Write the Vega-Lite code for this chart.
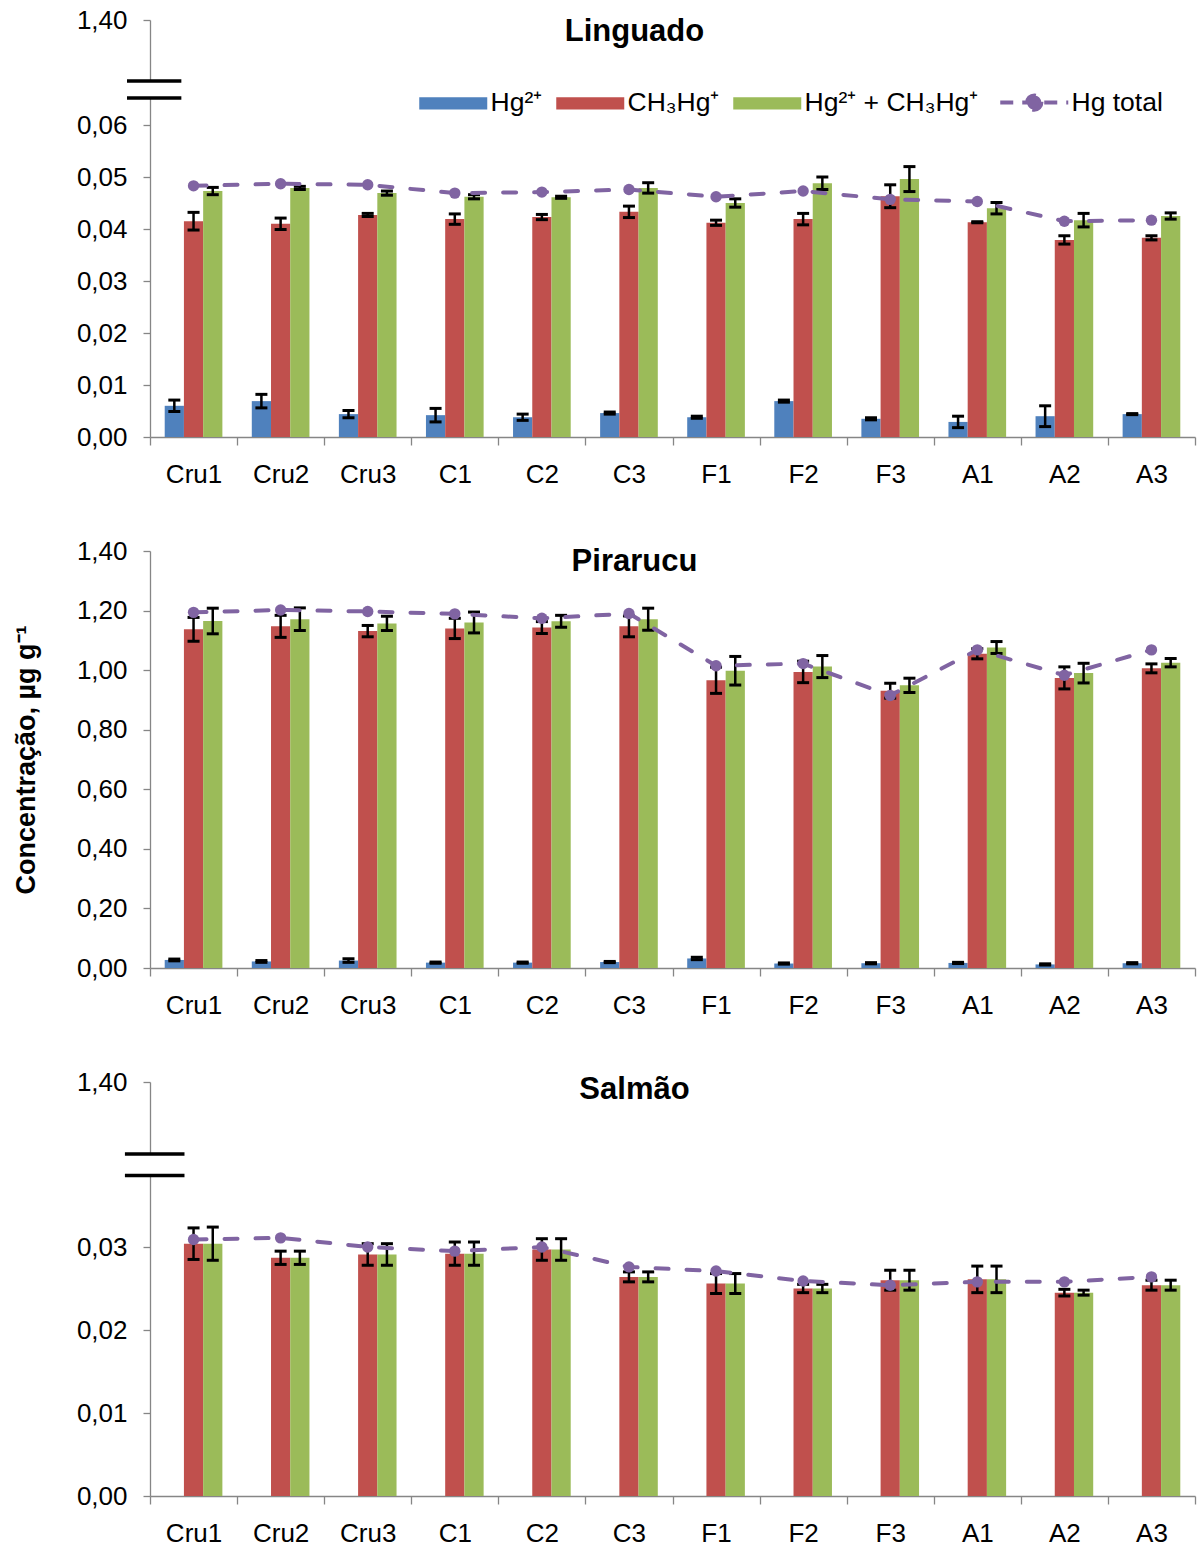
{
  "$schema": "https://vega.github.io/schema/vega-lite/v6.json",
  "background": "white",
  "padding": {"left": 12, "top": 7, "right": 4, "bottom": 4},
  "spacing": 114,
  "bounds": "flush",
  "config": {
    "font": "Liberation Sans",
    "view": {"stroke": null},
    "axis": {"grid": false, "labelFont": "Liberation Sans", "labelFontSize": 26, "labelColor": "#000000", "domainColor": "#868686", "tickColor": "#868686", "domainWidth": 1.3, "tickWidth": 1.3, "titleFont": "Liberation Sans", "titleColor": "#000000"},
    "title": {"font": "Liberation Sans", "fontSize": 31, "fontWeight": "bold", "color": "#000000", "anchor": "middle", "frame": "group", "baseline": "alphabetic"}
  },
  "datasets": {
    "linguado": [
      {"c": "Cru1", "s": "Hg²⁺", "v": 0.0060, "e": 0.0011},
      {"c": "Cru1", "s": "CH₃Hg⁺", "v": 0.0415, "e": 0.0017},
      {"c": "Cru1", "s": "Hg²⁺ + CH₃Hg⁺", "v": 0.0473, "e": 0.0007},
      {"c": "Cru1", "s": "Hg total", "v": 0.0483, "e": 0},
      {"c": "Cru2", "s": "Hg²⁺", "v": 0.0069, "e": 0.0013},
      {"c": "Cru2", "s": "CH₃Hg⁺", "v": 0.0410, "e": 0.0011},
      {"c": "Cru2", "s": "Hg²⁺ + CH₃Hg⁺", "v": 0.0479, "e": 0.0003},
      {"c": "Cru2", "s": "Hg total", "v": 0.0487, "e": 0},
      {"c": "Cru3", "s": "Hg²⁺", "v": 0.0044, "e": 0.0007},
      {"c": "Cru3", "s": "CH₃Hg⁺", "v": 0.0427, "e": 0.0003},
      {"c": "Cru3", "s": "Hg²⁺ + CH₃Hg⁺", "v": 0.0469, "e": 0.0004},
      {"c": "Cru3", "s": "Hg total", "v": 0.0485, "e": 0},
      {"c": "C1", "s": "Hg²⁺", "v": 0.0042, "e": 0.0013},
      {"c": "C1", "s": "CH₃Hg⁺", "v": 0.0419, "e": 0.0010},
      {"c": "C1", "s": "Hg²⁺ + CH₃Hg⁺", "v": 0.0462, "e": 0.0004},
      {"c": "C1", "s": "Hg total", "v": 0.0469, "e": 0},
      {"c": "C2", "s": "Hg²⁺", "v": 0.0038, "e": 0.0006},
      {"c": "C2", "s": "CH₃Hg⁺", "v": 0.0423, "e": 0.0005},
      {"c": "C2", "s": "Hg²⁺ + CH₃Hg⁺", "v": 0.0461, "e": 0.0002},
      {"c": "C2", "s": "Hg total", "v": 0.0471, "e": 0},
      {"c": "C3", "s": "Hg²⁺", "v": 0.0046, "e": 0.0002},
      {"c": "C3", "s": "CH₃Hg⁺", "v": 0.0433, "e": 0.0011},
      {"c": "C3", "s": "Hg²⁺ + CH₃Hg⁺", "v": 0.0479, "e": 0.0010},
      {"c": "C3", "s": "Hg total", "v": 0.0476, "e": 0},
      {"c": "F1", "s": "Hg²⁺", "v": 0.0038, "e": 0.0002},
      {"c": "F1", "s": "CH₃Hg⁺", "v": 0.0412, "e": 0.0005},
      {"c": "F1", "s": "Hg²⁺ + CH₃Hg⁺", "v": 0.0450, "e": 0.0008},
      {"c": "F1", "s": "Hg total", "v": 0.0462, "e": 0},
      {"c": "F2", "s": "Hg²⁺", "v": 0.0069, "e": 0.0002},
      {"c": "F2", "s": "CH₃Hg⁺", "v": 0.0419, "e": 0.0011},
      {"c": "F2", "s": "Hg²⁺ + CH₃Hg⁺", "v": 0.0488, "e": 0.0012},
      {"c": "F2", "s": "Hg total", "v": 0.0473, "e": 0},
      {"c": "F3", "s": "Hg²⁺", "v": 0.0035, "e": 0.0002},
      {"c": "F3", "s": "CH₃Hg⁺", "v": 0.0463, "e": 0.0022},
      {"c": "F3", "s": "Hg²⁺ + CH₃Hg⁺", "v": 0.0496, "e": 0.0024},
      {"c": "F3", "s": "Hg total", "v": 0.0457, "e": 0},
      {"c": "A1", "s": "Hg²⁺", "v": 0.0029, "e": 0.0011},
      {"c": "A1", "s": "CH₃Hg⁺", "v": 0.0413, "e": 0.0001},
      {"c": "A1", "s": "Hg²⁺ + CH₃Hg⁺", "v": 0.0440, "e": 0.0011},
      {"c": "A1", "s": "Hg total", "v": 0.0453, "e": 0},
      {"c": "A2", "s": "Hg²⁺", "v": 0.0040, "e": 0.0020},
      {"c": "A2", "s": "CH₃Hg⁺", "v": 0.0379, "e": 0.0008},
      {"c": "A2", "s": "Hg²⁺ + CH₃Hg⁺", "v": 0.0417, "e": 0.0013},
      {"c": "A2", "s": "Hg total", "v": 0.0415, "e": 0},
      {"c": "A3", "s": "Hg²⁺", "v": 0.0044, "e": 0.0001},
      {"c": "A3", "s": "CH₃Hg⁺", "v": 0.0383, "e": 0.0004},
      {"c": "A3", "s": "Hg²⁺ + CH₃Hg⁺", "v": 0.0425, "e": 0.0006},
      {"c": "A3", "s": "Hg total", "v": 0.0417, "e": 0}
    ],
    "pirarucu": [
      {"c": "Cru1", "s": "Hg²⁺", "v": 0.027, "e": 0.003},
      {"c": "Cru1", "s": "CH₃Hg⁺", "v": 1.137, "e": 0.040},
      {"c": "Cru1", "s": "Hg²⁺ + CH₃Hg⁺", "v": 1.165, "e": 0.043},
      {"c": "Cru1", "s": "Hg total", "v": 1.194, "e": 0},
      {"c": "Cru2", "s": "Hg²⁺", "v": 0.022, "e": 0.003},
      {"c": "Cru2", "s": "CH₃Hg⁺", "v": 1.147, "e": 0.037},
      {"c": "Cru2", "s": "Hg²⁺ + CH₃Hg⁺", "v": 1.171, "e": 0.038},
      {"c": "Cru2", "s": "Hg total", "v": 1.202, "e": 0},
      {"c": "Cru3", "s": "Hg²⁺", "v": 0.025, "e": 0.006},
      {"c": "Cru3", "s": "CH₃Hg⁺", "v": 1.131, "e": 0.019},
      {"c": "Cru3", "s": "Hg²⁺ + CH₃Hg⁺", "v": 1.157, "e": 0.024},
      {"c": "Cru3", "s": "Hg total", "v": 1.197, "e": 0},
      {"c": "C1", "s": "Hg²⁺", "v": 0.018, "e": 0.002},
      {"c": "C1", "s": "CH₃Hg⁺", "v": 1.140, "e": 0.034},
      {"c": "C1", "s": "Hg²⁺ + CH₃Hg⁺", "v": 1.160, "e": 0.035},
      {"c": "C1", "s": "Hg total", "v": 1.189, "e": 0},
      {"c": "C2", "s": "Hg²⁺", "v": 0.018, "e": 0.002},
      {"c": "C2", "s": "CH₃Hg⁺", "v": 1.143, "e": 0.020},
      {"c": "C2", "s": "Hg²⁺ + CH₃Hg⁺", "v": 1.164, "e": 0.020},
      {"c": "C2", "s": "Hg total", "v": 1.174, "e": 0},
      {"c": "C3", "s": "Hg²⁺", "v": 0.020, "e": 0.002},
      {"c": "C3", "s": "CH₃Hg⁺", "v": 1.147, "e": 0.035},
      {"c": "C3", "s": "Hg²⁺ + CH₃Hg⁺", "v": 1.171, "e": 0.037},
      {"c": "C3", "s": "Hg total", "v": 1.190, "e": 0},
      {"c": "F1", "s": "Hg²⁺", "v": 0.032, "e": 0.004},
      {"c": "F1", "s": "CH₃Hg⁺", "v": 0.966, "e": 0.044},
      {"c": "F1", "s": "Hg²⁺ + CH₃Hg⁺", "v": 0.998, "e": 0.048},
      {"c": "F1", "s": "Hg total", "v": 1.015, "e": 0},
      {"c": "F2", "s": "Hg²⁺", "v": 0.015, "e": 0.002},
      {"c": "F2", "s": "CH₃Hg⁺", "v": 0.994, "e": 0.036},
      {"c": "F2", "s": "Hg²⁺ + CH₃Hg⁺", "v": 1.012, "e": 0.037},
      {"c": "F2", "s": "Hg total", "v": 1.022, "e": 0},
      {"c": "F3", "s": "Hg²⁺", "v": 0.016, "e": 0.002},
      {"c": "F3", "s": "CH₃Hg⁺", "v": 0.931, "e": 0.025},
      {"c": "F3", "s": "Hg²⁺ + CH₃Hg⁺", "v": 0.949, "e": 0.024},
      {"c": "F3", "s": "Hg total", "v": 0.915, "e": 0},
      {"c": "A1", "s": "Hg²⁺", "v": 0.017, "e": 0.002},
      {"c": "A1", "s": "CH₃Hg⁺", "v": 1.055, "e": 0.017},
      {"c": "A1", "s": "Hg²⁺ + CH₃Hg⁺", "v": 1.076, "e": 0.020},
      {"c": "A1", "s": "Hg total", "v": 1.068, "e": 0},
      {"c": "A2", "s": "Hg²⁺", "v": 0.012, "e": 0.002},
      {"c": "A2", "s": "CH₃Hg⁺", "v": 0.974, "e": 0.037},
      {"c": "A2", "s": "Hg²⁺ + CH₃Hg⁺", "v": 0.990, "e": 0.033},
      {"c": "A2", "s": "Hg total", "v": 0.983, "e": 0},
      {"c": "A3", "s": "Hg²⁺", "v": 0.016, "e": 0.002},
      {"c": "A3", "s": "CH₃Hg⁺", "v": 1.006, "e": 0.015},
      {"c": "A3", "s": "Hg²⁺ + CH₃Hg⁺", "v": 1.025, "e": 0.014},
      {"c": "A3", "s": "Hg total", "v": 1.068, "e": 0}
    ],
    "salmao": [
      {"c": "Cru1", "s": "CH₃Hg⁺", "v": 0.0304, "e": 0.0019},
      {"c": "Cru1", "s": "Hg²⁺ + CH₃Hg⁺", "v": 0.0304, "e": 0.0020},
      {"c": "Cru1", "s": "Hg total", "v": 0.0309, "e": 0},
      {"c": "Cru2", "s": "CH₃Hg⁺", "v": 0.0287, "e": 0.0008},
      {"c": "Cru2", "s": "Hg²⁺ + CH₃Hg⁺", "v": 0.0287, "e": 0.0008},
      {"c": "Cru2", "s": "Hg total", "v": 0.0311, "e": 0},
      {"c": "Cru3", "s": "CH₃Hg⁺", "v": 0.0291, "e": 0.0013},
      {"c": "Cru3", "s": "Hg²⁺ + CH₃Hg⁺", "v": 0.0291, "e": 0.0013},
      {"c": "Cru3", "s": "Hg total", "v": 0.0300, "e": 0},
      {"c": "C1", "s": "CH₃Hg⁺", "v": 0.0292, "e": 0.0014},
      {"c": "C1", "s": "Hg²⁺ + CH₃Hg⁺", "v": 0.0292, "e": 0.0014},
      {"c": "C1", "s": "Hg total", "v": 0.0295, "e": 0},
      {"c": "C2", "s": "CH₃Hg⁺", "v": 0.0297, "e": 0.0013},
      {"c": "C2", "s": "Hg²⁺ + CH₃Hg⁺", "v": 0.0297, "e": 0.0013},
      {"c": "C2", "s": "Hg total", "v": 0.0300, "e": 0},
      {"c": "C3", "s": "CH₃Hg⁺", "v": 0.0264, "e": 0.0006},
      {"c": "C3", "s": "Hg²⁺ + CH₃Hg⁺", "v": 0.0264, "e": 0.0006},
      {"c": "C3", "s": "Hg total", "v": 0.0276, "e": 0},
      {"c": "F1", "s": "CH₃Hg⁺", "v": 0.0256, "e": 0.0012},
      {"c": "F1", "s": "Hg²⁺ + CH₃Hg⁺", "v": 0.0256, "e": 0.0012},
      {"c": "F1", "s": "Hg total", "v": 0.0271, "e": 0},
      {"c": "F2", "s": "CH₃Hg⁺", "v": 0.0250, "e": 0.0005},
      {"c": "F2", "s": "Hg²⁺ + CH₃Hg⁺", "v": 0.0250, "e": 0.0005},
      {"c": "F2", "s": "Hg total", "v": 0.0259, "e": 0},
      {"c": "F3", "s": "CH₃Hg⁺", "v": 0.0260, "e": 0.0012},
      {"c": "F3", "s": "Hg²⁺ + CH₃Hg⁺", "v": 0.0260, "e": 0.0012},
      {"c": "F3", "s": "Hg total", "v": 0.0254, "e": 0},
      {"c": "A1", "s": "CH₃Hg⁺", "v": 0.0261, "e": 0.0016},
      {"c": "A1", "s": "Hg²⁺ + CH₃Hg⁺", "v": 0.0261, "e": 0.0016},
      {"c": "A1", "s": "Hg total", "v": 0.0258, "e": 0},
      {"c": "A2", "s": "CH₃Hg⁺", "v": 0.0245, "e": 0.0004},
      {"c": "A2", "s": "Hg²⁺ + CH₃Hg⁺", "v": 0.0245, "e": 0.0003},
      {"c": "A2", "s": "Hg total", "v": 0.0258, "e": 0},
      {"c": "A3", "s": "CH₃Hg⁺", "v": 0.0254, "e": 0.0006},
      {"c": "A3", "s": "Hg²⁺ + CH₃Hg⁺", "v": 0.0254, "e": 0.0006},
      {"c": "A3", "s": "Hg total", "v": 0.0264, "e": 0}
    ],
    "break1": [
      {"k": "gap", "x1": -0.006, "x2": 0.006, "y": 0.0819, "y2": 0.369},
      {"k": "line", "x1": -0.022, "x2": 0.030, "y": 0.0819, "y2": 0.0819},
      {"k": "line", "x1": -0.022, "x2": 0.030, "y": 0.369, "y2": 0.369}
    ],
    "break3": [
      {"k": "gap", "x1": -0.006, "x2": 0.006, "y": 0.0386, "y2": 0.206},
      {"k": "line", "x1": -0.024, "x2": 0.033, "y": 0.0386, "y2": 0.0386},
      {"k": "line", "x1": -0.024, "x2": 0.033, "y": 0.206, "y2": 0.206}
    ]
  },
  "vconcat": [
    {
      "width": 1045, "height": 417,
      "title": {"text": "Linguado", "offset": -41, "dx": -38},
      "resolve": {"scale": {"x": "independent"}},
      "layer": [
        {
          "data": {"name": "linguado"},
          "transform": [{"calculate": "datum.v - datum.e", "as": "lo"}, {"calculate": "datum.v + datum.e", "as": "hi"}],
          "encoding": {
            "x": {"field": "c", "type": "nominal", "sort": ["Cru1","Cru2","Cru3","C1","C2","C3","F1","F2","F3","A1","A2","A3"], "scale": {"paddingInner": 0, "paddingOuter": 0},
                  "axis": {"title": null, "tickBand": "extent", "tickSize": 8, "labelPadding": 16, "labelAngle": 0}}
          },
          "layer": [
            {"transform": [{"filter": "datum.s !== 'Hg total'"}], "mark": {"type": "bar"},
             "encoding": {
               "xOffset": {"field": "s", "type": "nominal", "sort": ["Hg²⁺","CH₃Hg⁺","Hg²⁺ + CH₃Hg⁺"], "scale": {"domain": ["Hg²⁺","CH₃Hg⁺","Hg²⁺ + CH₃Hg⁺"], "paddingInner": 0, "paddingOuter": 0.765}},
               "y": {"field": "v", "type": "quantitative", "scale": {"domain": [0, 0.065, 1.4], "range": [417, 79, 0], "nice": false, "zero": false},
                     "axis": {"title": null, "values": [0, 0.01, 0.02, 0.03, 0.04, 0.05, 0.06, 1.4], "labelExpr": "replace(format(datum.value, '.2f'), '.', ',')", "tickSize": 7, "labelPadding": 16}},
               "color": {"field": "s", "type": "nominal",
                 "scale": {"domain": ["Hg²⁺","CH₃Hg⁺","Hg²⁺ + CH₃Hg⁺","Hg total"], "range": ["#4F81BD","#C0504D","#9BBB59","#8064A2"]},
                 "legend": {"orient": "none", "legendX": 290, "legendY": 69, "direction": "horizontal", "title": null, "padding": 0,
                   "labelFont": "Liberation Sans", "labelFontSize": 26.5, "labelColor": "#000000", "labelOffset": 24, "labelLimit": 0, "columnPadding": 13,
                   "symbolSize": 4624, "symbolType": "M-1,-0.18H1V0.18H-1Z", "symbolStrokeWidth": 0,
                   "encode": {"symbols": {"update": {
                     "shape": {"signal": "datum.value === 'Hg total' ? 'M-1,0H1M0.21,0A0.21,0.21,0,1,1,-0.21,0A0.21,0.21,0,1,1,0.21,0Z' : 'M-1,-0.18H1V0.18H-1Z'"},
                     "fill": {"scale": "color", "field": "value"},
                     "stroke": {"value": "#8064A2"},
                     "strokeWidth": {"signal": "datum.value === 'Hg total' ? 4 : 0"},
                     "strokeDash": {"signal": "datum.value === 'Hg total' ? [13, 9] : [1, 0]"},
                     "opacity": {"value": 1}
                   }}}}
               }
             }},
            {"transform": [{"filter": "datum.s !== 'Hg total'"}], "mark": {"type": "rule", "color": "#000000", "strokeWidth": 2.5},
             "encoding": {
               "xOffset": {"field": "s", "type": "nominal", "sort": ["Hg²⁺","CH₃Hg⁺","Hg²⁺ + CH₃Hg⁺"]},
               "y": {"field": "lo", "type": "quantitative", "title": null}, "y2": {"field": "hi"}}},
            {"transform": [{"filter": "datum.s !== 'Hg total'"}], "mark": {"type": "tick", "color": "#000000", "thickness": 3, "size": 12, "opacity": 1},
             "encoding": {
               "xOffset": {"field": "s", "type": "nominal", "sort": ["Hg²⁺","CH₃Hg⁺","Hg²⁺ + CH₃Hg⁺"]},
               "y": {"field": "lo", "type": "quantitative", "title": null}}},
            {"transform": [{"filter": "datum.s !== 'Hg total'"}], "mark": {"type": "tick", "color": "#000000", "thickness": 3, "size": 12, "opacity": 1},
             "encoding": {
               "xOffset": {"field": "s", "type": "nominal", "sort": ["Hg²⁺","CH₃Hg⁺","Hg²⁺ + CH₃Hg⁺"]},
               "y": {"field": "hi", "type": "quantitative", "title": null}}},
            {"transform": [{"filter": "datum.s === 'Hg total'"}], "mark": {"type": "line", "strokeWidth": 4, "strokeDash": [13, 18], "strokeCap": "round"},
             "encoding": {"y": {"field": "v", "type": "quantitative", "title": null}, "color": {"field": "s", "type": "nominal", "legend": null}}},
            {"transform": [{"filter": "datum.s === 'Hg total'"}], "mark": {"type": "point", "filled": true, "size": 130, "opacity": 1},
             "encoding": {"y": {"field": "v", "type": "quantitative", "title": null}, "color": {"field": "s", "type": "nominal", "legend": null}}}
          ]
        },
        {
          "data": {"name": "break1"},
          "encoding": {"x": {"field": "x1", "type": "quantitative", "scale": {"domain": [0, 1], "nice": false, "zero": false}, "axis": null}, "x2": {"field": "x2"}},
          "layer": [
            {"transform": [{"filter": "datum.k === 'gap'"}], "mark": {"type": "rect", "color": "#ffffff", "opacity": 1},
             "encoding": {"y": {"field": "y", "type": "quantitative", "title": null}, "y2": {"field": "y2"}}},
            {"transform": [{"filter": "datum.k === 'line'"}], "mark": {"type": "rule", "color": "#000000", "strokeWidth": 3.5},
             "encoding": {"y": {"field": "y", "type": "quantitative", "title": null}}}
          ]
        }
      ]
    },
    {
      "width": 1045, "height": 417,
      "title": {"text": "Pirarucu", "offset": -40, "dx": -38},
      "layer": [
        {
          "data": {"name": "pirarucu"},
          "transform": [{"calculate": "datum.v - datum.e", "as": "lo"}, {"calculate": "datum.v + datum.e", "as": "hi"}],
          "encoding": {
            "x": {"field": "c", "type": "nominal", "sort": ["Cru1","Cru2","Cru3","C1","C2","C3","F1","F2","F3","A1","A2","A3"], "scale": {"paddingInner": 0, "paddingOuter": 0},
                  "axis": {"title": null, "tickBand": "extent", "tickSize": 8, "labelPadding": 16, "labelAngle": 0}}
          },
          "layer": [
            {"transform": [{"filter": "datum.s !== 'Hg total'"}], "mark": {"type": "bar"},
             "encoding": {
               "xOffset": {"field": "s", "type": "nominal", "sort": ["Hg²⁺","CH₃Hg⁺","Hg²⁺ + CH₃Hg⁺"], "scale": {"domain": ["Hg²⁺","CH₃Hg⁺","Hg²⁺ + CH₃Hg⁺"], "paddingInner": 0, "paddingOuter": 0.765}},
               "y": {"field": "v", "type": "quantitative", "title": "Concentração, µg g⁻¹", "scale": {"domain": [0, 1.4], "nice": false},
                     "axis": {"titleFontSize": 27, "titleFontWeight": "bold", "titlePadding": 36, "values": [0, 0.2, 0.4, 0.6, 0.8, 1.0, 1.2, 1.4], "labelExpr": "replace(format(datum.value, '.2f'), '.', ',')", "tickSize": 7, "labelPadding": 16}},
               "color": {"field": "s", "type": "nominal", "legend": null}
             }},
            {"transform": [{"filter": "datum.s !== 'Hg total'"}], "mark": {"type": "rule", "color": "#000000", "strokeWidth": 2.5},
             "encoding": {
               "xOffset": {"field": "s", "type": "nominal", "sort": ["Hg²⁺","CH₃Hg⁺","Hg²⁺ + CH₃Hg⁺"]},
               "y": {"field": "lo", "type": "quantitative", "title": "Concentração, µg g⁻¹"}, "y2": {"field": "hi"}}},
            {"transform": [{"filter": "datum.s !== 'Hg total'"}], "mark": {"type": "tick", "color": "#000000", "thickness": 3, "size": 12, "opacity": 1},
             "encoding": {
               "xOffset": {"field": "s", "type": "nominal", "sort": ["Hg²⁺","CH₃Hg⁺","Hg²⁺ + CH₃Hg⁺"]},
               "y": {"field": "lo", "type": "quantitative", "title": "Concentração, µg g⁻¹"}}},
            {"transform": [{"filter": "datum.s !== 'Hg total'"}], "mark": {"type": "tick", "color": "#000000", "thickness": 3, "size": 12, "opacity": 1},
             "encoding": {
               "xOffset": {"field": "s", "type": "nominal", "sort": ["Hg²⁺","CH₃Hg⁺","Hg²⁺ + CH₃Hg⁺"]},
               "y": {"field": "hi", "type": "quantitative", "title": "Concentração, µg g⁻¹"}}},
            {"transform": [{"filter": "datum.s === 'Hg total'"}], "mark": {"type": "line", "strokeWidth": 4, "strokeDash": [13, 18], "strokeCap": "round"},
             "encoding": {"y": {"field": "v", "type": "quantitative", "title": "Concentração, µg g⁻¹"}, "color": {"field": "s", "type": "nominal", "legend": null}}},
            {"transform": [{"filter": "datum.s === 'Hg total'"}], "mark": {"type": "point", "filled": true, "size": 130, "opacity": 1},
             "encoding": {"y": {"field": "v", "type": "quantitative", "title": "Concentração, µg g⁻¹"}, "color": {"field": "s", "type": "nominal", "legend": null}}}
          ]
        }
      ]
    },
    {
      "width": 1045, "height": 414,
      "title": {"text": "Salmão", "offset": -37, "dx": -38},
      "resolve": {"scale": {"x": "independent"}},
      "layer": [
        {
          "data": {"name": "salmao"},
          "transform": [{"calculate": "datum.v - datum.e", "as": "lo"}, {"calculate": "datum.v + datum.e", "as": "hi"}],
          "encoding": {
            "x": {"field": "c", "type": "nominal", "sort": ["Cru1","Cru2","Cru3","C1","C2","C3","F1","F2","F3","A1","A2","A3"], "scale": {"paddingInner": 0, "paddingOuter": 0},
                  "axis": {"title": null, "tickBand": "extent", "tickSize": 8, "labelPadding": 16, "labelAngle": 0}}
          },
          "layer": [
            {"transform": [{"filter": "datum.s !== 'Hg total'"}], "mark": {"type": "bar"},
             "encoding": {
               "xOffset": {"field": "s", "type": "nominal", "sort": ["Hg²⁺","CH₃Hg⁺","Hg²⁺ + CH₃Hg⁺"], "scale": {"domain": ["Hg²⁺","CH₃Hg⁺","Hg²⁺ + CH₃Hg⁺"], "paddingInner": 0, "paddingOuter": 0.765}},
               "y": {"field": "v", "type": "quantitative", "scale": {"domain": [0, 0.04, 1.4], "range": [414, 82, 0], "nice": false, "zero": false},
                     "axis": {"title": null, "values": [0, 0.01, 0.02, 0.03, 1.4], "labelExpr": "replace(format(datum.value, '.2f'), '.', ',')", "tickSize": 7, "labelPadding": 16}},
               "color": {"field": "s", "type": "nominal", "legend": null}
             }},
            {"transform": [{"filter": "datum.s !== 'Hg total'"}], "mark": {"type": "rule", "color": "#000000", "strokeWidth": 2.5},
             "encoding": {
               "xOffset": {"field": "s", "type": "nominal", "sort": ["Hg²⁺","CH₃Hg⁺","Hg²⁺ + CH₃Hg⁺"]},
               "y": {"field": "lo", "type": "quantitative", "title": null}, "y2": {"field": "hi"}}},
            {"transform": [{"filter": "datum.s !== 'Hg total'"}], "mark": {"type": "tick", "color": "#000000", "thickness": 3, "size": 12, "opacity": 1},
             "encoding": {
               "xOffset": {"field": "s", "type": "nominal", "sort": ["Hg²⁺","CH₃Hg⁺","Hg²⁺ + CH₃Hg⁺"]},
               "y": {"field": "lo", "type": "quantitative", "title": null}}},
            {"transform": [{"filter": "datum.s !== 'Hg total'"}], "mark": {"type": "tick", "color": "#000000", "thickness": 3, "size": 12, "opacity": 1},
             "encoding": {
               "xOffset": {"field": "s", "type": "nominal", "sort": ["Hg²⁺","CH₃Hg⁺","Hg²⁺ + CH₃Hg⁺"]},
               "y": {"field": "hi", "type": "quantitative", "title": null}}},
            {"transform": [{"filter": "datum.s === 'Hg total'"}], "mark": {"type": "line", "strokeWidth": 4, "strokeDash": [13, 18], "strokeCap": "round"},
             "encoding": {"y": {"field": "v", "type": "quantitative", "title": null}, "color": {"field": "s", "type": "nominal", "legend": null}}},
            {"transform": [{"filter": "datum.s === 'Hg total'"}], "mark": {"type": "point", "filled": true, "size": 130, "opacity": 1},
             "encoding": {"y": {"field": "v", "type": "quantitative", "title": null}, "color": {"field": "s", "type": "nominal", "legend": null}}}
          ]
        },
        {
          "data": {"name": "break3"},
          "encoding": {"x": {"field": "x1", "type": "quantitative", "scale": {"domain": [0, 1], "nice": false, "zero": false}, "axis": null}, "x2": {"field": "x2"}},
          "layer": [
            {"transform": [{"filter": "datum.k === 'gap'"}], "mark": {"type": "rect", "color": "#ffffff", "opacity": 1},
             "encoding": {"y": {"field": "y", "type": "quantitative", "title": null}, "y2": {"field": "y2"}}},
            {"transform": [{"filter": "datum.k === 'line'"}], "mark": {"type": "rule", "color": "#000000", "strokeWidth": 3.5},
             "encoding": {"y": {"field": "y", "type": "quantitative", "title": null}}}
          ]
        }
      ]
    }
  ]
}
